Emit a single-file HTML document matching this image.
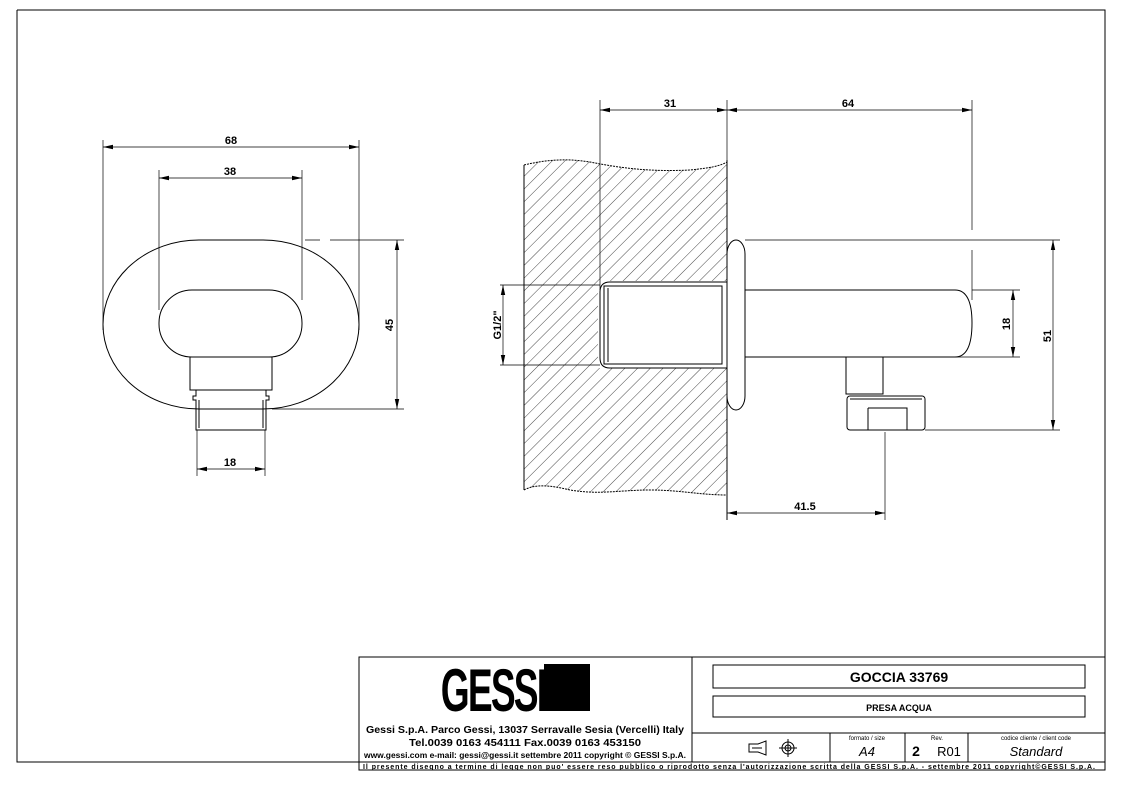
<!DOCTYPE html>
<html><head><meta charset="utf-8"><style>
html,body{margin:0;padding:0;background:#fff;}
svg{display:block;font-family:"Liberation Sans",sans-serif;}
</style></head><body>
<svg width="1123" height="794" viewBox="0 0 1123 794" xmlns="http://www.w3.org/2000/svg">
<defs>
<pattern id="h" patternUnits="userSpaceOnUse" width="9" height="9" patternTransform="rotate(45)">
<line x1="0" y1="0" x2="0" y2="9" stroke="#333" stroke-width="0.9"/>
</pattern>
<marker id="a" markerWidth="10" markerHeight="6" refX="10" refY="3" orient="auto-start-reverse" markerUnits="userSpaceOnUse">
<path d="M0,0.8 L10,3 L0,5.2 z" fill="#000"/>
</marker>
<clipPath id="wall"><path d="M524,165 C545,160 565,158 590,162 C620,168 650,172 690,170 C710,168 720,166 727,162 L727,495 C700,495 680,490 650,490 C620,490 600,495 570,490 C550,485 535,484 524,490 Z"/></clipPath>
</defs>
<g fill="none" stroke="#000" stroke-width="1">
<path d="M17,10 H1105 V770 M17,10 V762 H359"/>

<rect x="103" y="240" width="256" height="169" rx="96" ry="84.5"/>
<rect x="159" y="290" width="143" height="67" rx="33" ry="33"/>
<rect x="190" y="357" width="82" height="33"/>
<path d="M196,390 V396 H193 V400 H196 V430 H266 V400 H269 V396 H266 V390"/>
<path d="M199,400 V428 M263,400 V428"/>
<g stroke-width="0.7">
<path d="M103,140 V330 M359,140 V330 M159,170 V310 M302,170 V300"/>
<line x1="103" y1="147" x2="359" y2="147" marker-start="url(#a)" marker-end="url(#a)"/>
<line x1="159" y1="178" x2="302" y2="178" marker-start="url(#a)" marker-end="url(#a)"/>
<path d="M305,240 H320 M330,240 H404 M272,409 H404"/>
<line x1="397" y1="240" x2="397" y2="409" marker-start="url(#a)" marker-end="url(#a)"/>
<path d="M197,430 V476 M265,430 V476"/>
<line x1="197" y1="469" x2="265" y2="469" marker-start="url(#a)" marker-end="url(#a)"/>
</g>

<g clip-path="url(#wall)">
<rect x="520" y="150" width="210" height="350" fill="url(#h)" stroke="none"/>
</g>
<path d="M524,165 C545,160 565,158 590,162 C620,168 650,172 690,170 C710,168 720,166 727,162" stroke-dasharray="2,1"/>
<path d="M524,490 C535,484 550,485 570,490 C600,495 620,490 650,490 C680,490 700,495 727,495" stroke-dasharray="2,1"/>
<path d="M524,165 V490"/>
<rect x="598" y="281" width="129" height="87" fill="#fff" stroke="none"/>
<path d="M727,282 H610 Q600,282 600,292 V358 Q600,368 610,368 H727"/>
<rect x="604" y="286" width="118" height="78"/>
<path d="M608,288 V362"/>
<path d="M727,160 V520" />
<rect x="727" y="240" width="18" height="170" rx="9" ry="14" fill="#fff"/>
<path d="M745,240 H1060" stroke-width="0.8"/>
<path d="M745,290 H955 Q972,290 972,323 Q972,357 955,357 H745"/>
<rect x="846" y="357" width="37" height="37"/>
<rect x="847" y="396" width="78" height="34" rx="3"/>
<path d="M850,399 H922 M868,408 H907 V430 M868,408 V430"/>
<g stroke-width="0.7">
<path d="M600,100 V290 M727,100 V160 M972,100 V230 M972,250 V300"/>
<line x1="600" y1="110" x2="727" y2="110" marker-start="url(#a)" marker-end="url(#a)"/>
<line x1="727" y1="110" x2="972" y2="110" marker-start="url(#a)" marker-end="url(#a)"/>
<path d="M500,285 H600 M500,365 H600"/>
<line x1="503" y1="285" x2="503" y2="365" marker-start="url(#a)" marker-end="url(#a)"/>
<path d="M972,290 H1020 M940,357 H1020"/>
<line x1="1013" y1="290" x2="1013" y2="357" marker-start="url(#a)" marker-end="url(#a)"/>
<path d="M925,430 H1060"/>
<line x1="1053" y1="240" x2="1053" y2="430" marker-start="url(#a)" marker-end="url(#a)"/>
<path d="M885,432 V520"/>
<line x1="727" y1="513" x2="885" y2="513" marker-start="url(#a)" marker-end="url(#a)"/>
</g>

<rect x="359" y="657" width="746" height="113"/>
<path d="M692,657 V762 M692,733 H1105 M359,762 H1105 M830,733 V762 M905,733 V762 M968,733 V762"/>
<rect x="713" y="665" width="372" height="23"/>
<rect x="713" y="696" width="372" height="21"/>
<path d="M749,744 H758 L766,741 V755 L758,752 H749 Z M752,748 H762"/>
<circle cx="788" cy="748" r="6"/><circle cx="788" cy="748" r="3"/>
<path d="M779,748 H797 M788,739 V757"/>
</g>
<g fill="#000" font-size="11" text-anchor="middle" font-weight="bold">
<text x="231" y="144">68</text>
<text x="230" y="175">38</text>
<text x="230" y="466">18</text>
<text transform="translate(393,325) rotate(-90)">45</text>
<text x="670" y="107">31</text>
<text x="848" y="107">64</text>
<text x="805" y="510">41.5</text>
<text transform="translate(501,325) rotate(-90)">G1/2"</text>
<text transform="translate(1010,324) rotate(-90)">18</text>
<text transform="translate(1051,336) rotate(-90)">51</text>
</g>
<rect x="544" y="664" width="46" height="47" fill="#000"/>
<text x="493" y="711" font-size="60" font-weight="bold" text-anchor="middle" transform="translate(493,0) scale(0.62,1) translate(-493,0)" letter-spacing="-3">GESSI</text>
<g fill="#000" font-weight="bold">
<text x="366" y="733" font-size="10.5" textLength="318" lengthAdjust="spacingAndGlyphs">Gessi S.p.A. Parco Gessi, 13037 Serravalle Sesia (Vercelli) Italy</text>
<text x="409" y="746" font-size="10.5" textLength="232" lengthAdjust="spacingAndGlyphs">Tel.0039 0163 454111 Fax.0039 0163 453150</text>
<text x="364" y="758" font-size="8" textLength="322" lengthAdjust="spacingAndGlyphs">www.gessi.com e-mail: gessi@gessi.it settembre 2011 copyright © GESSI S.p.A.</text>
<text x="363" y="769" font-size="7" textLength="732" lengthAdjust="spacing">Il presente disegno a termine di legge non puo' essere reso pubblico o riprodotto senza l'autorizzazione scritta della GESSI S.p.A. - settembre 2011 copyright©GESSI S.p.A.</text>
</g>
<g fill="#000" text-anchor="middle">
<text x="899" y="682" font-size="14" font-weight="bold">GOCCIA  33769</text>
<text x="899" y="711" font-size="9" font-weight="bold">PRESA ACQUA</text>
<text x="867" y="740" font-size="6">formato / size</text>
<text x="937" y="740" font-size="6">Rev.</text>
<text x="1036" y="740" font-size="6">codice cliente / client code</text>
<text x="867" y="756" font-size="13" font-style="italic">A4</text>
<text x="916" y="756" font-size="14" font-weight="bold">2</text>
<text x="949" y="756" font-size="13">R01</text>
<text x="1036" y="756" font-size="13" font-style="italic">Standard</text>
</g>
</svg>
</body></html>
